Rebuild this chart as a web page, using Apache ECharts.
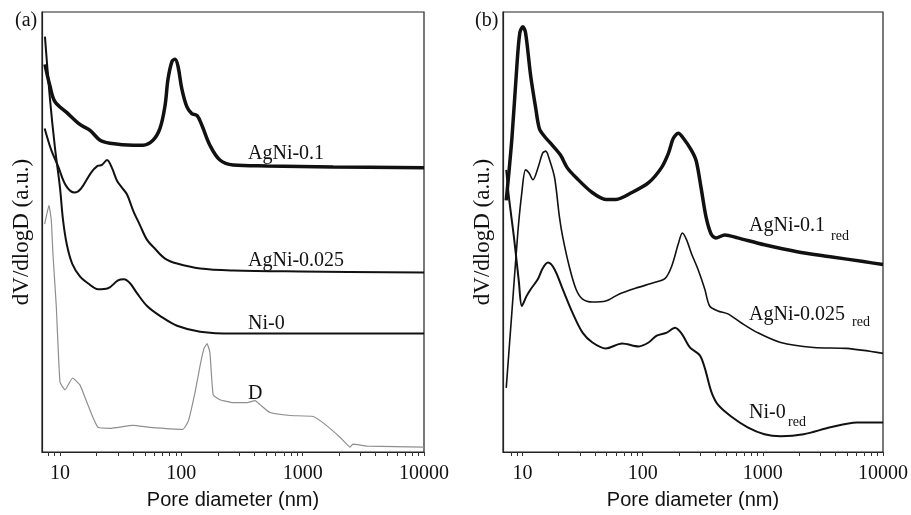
<!DOCTYPE html>
<html>
<head>
<meta charset="utf-8">
<script src="https://cdn.jsdelivr.net/npm/echarts@6/dist/echarts.min.js"></script>
<style>
html,body{margin:0;padding:0;background:#fff;}
#c{width:911px;height:515px;}
</style>
</head>
<body>
<div id="c"></div>
<script>
// ---------- tick labels ----------
const majorTicks = [10, 100, 1000, 10000];
const minorTicks = [8, 9, 10, 20, 30, 40, 50, 60, 70, 80, 90, 100, 200, 300, 400, 500, 600, 700, 800, 900,
                    1000, 2000, 3000, 4000, 5000, 6000, 7000, 8000, 9000, 10000];

// ---------- panel (a) : pore diameter (nm) / dV/dlogD (a.u.) ----------
const a_AgNi01_d = [7.52, 8.27, 9.10, 11.4, 14.6, 17.7, 21.4, 25.8, 40.0, 48.3, 58.4, 66.7, 73.4, 77.7, 83.8, 88.7, 93.9, 101, 111, 122, 135, 148, 172, 208, 267, 509, 1780, 10000];
const a_AgNi01_v = [393, 371, 355, 344, 332, 326, 316, 313, 311, 311, 316, 328, 351, 378, 396, 398, 391, 368, 350, 343, 341, 331, 311, 296, 291, 290, 289, 288];

const a_AgNi0025_d = [7.48, 8.48, 9.63, 11.2, 13.2, 14.9, 18.0, 20.4, 22.2, 24.4, 26.8, 29.5, 32.4, 35.7, 40.0, 45.6, 52.2, 60.7, 73.4, 92.2, 143, 267, 952, 10000];
const a_AgNi0025_v = [328, 306, 290, 270, 263, 267, 283, 290, 291, 296, 288, 275, 268, 261, 245, 230, 215, 206, 196, 191, 186, 184, 183, 182];

const a_Ni0_d = [7.52, 8.27, 9.10, 10.0, 10.6, 11.4, 12.6, 14.6, 17.0, 20.6, 24.9, 30.1, 33.7, 37.8, 43.1, 52.2, 66.7, 92.2, 143, 267, 10000];
const a_Ni0_v = [421, 358, 308, 268, 235, 210, 191, 178, 171, 165, 166, 174, 175, 171, 161, 148, 138, 128, 122, 120, 120];

const a_D_d = [7.48, 8.12, 8.48, 8.75, 9.32, 10.0, 11.0, 12.7, 14.6, 16.6, 18.7, 20.6, 25.8, 40.0, 55.2, 103, 114, 130, 143, 154, 163, 172, 183, 208, 267, 348, 405, 446, 538, 787, 1220, 1530, 2030, 2460, 2600, 3400, 10000];
const a_D_v = [231, 250, 235, 201, 148, 71, 63, 75, 68, 51, 35, 25, 24, 27, 25, 23, 31, 61, 88, 105, 110, 101, 58, 53, 50, 50, 52, 48, 40, 37, 36, 28, 15, 5, 8, 6, 5];

// ---------- panel (b) ----------
const b_AgNi01_d = [7.32, 8.16, 8.97, 9.50, 10.06, 10.6, 11.7, 12.9, 13.8, 15.2, 17.1, 20.7, 23.6, 28.0, 38.0, 49.5, 59.9, 81.2, 112, 143, 164, 180, 198, 218, 254, 279, 306, 337, 371, 407, 483, 618, 1030, 1930, 3640, 6860, 10000];
const b_AgNi01_v = [255, 318, 391, 425, 431, 425, 381, 348, 328, 320, 313, 301, 288, 278, 263, 256, 256, 263, 273, 288, 303, 318, 323, 318, 306, 295, 268, 238, 221, 217, 220, 217, 210, 203, 198, 193, 190];

const b_AgNi0025_d = [7.32, 8.16, 9.15, 9.87, 10.6, 11.3, 12.2, 13.6, 14.7, 15.6, 16.8, 18.5, 20.3, 21.6, 24.5, 27.9, 31.6, 38.2, 49.3, 63.4, 87.1, 127, 154, 174, 198, 214, 232, 255, 289, 329, 361, 423, 512, 659, 904, 1410, 2650, 4990, 10000];
const b_AgNi0025_v = [65, 142, 223, 263, 286, 283, 276, 290, 303, 305, 296, 278, 238, 218, 188, 165, 155, 152, 153, 160, 166, 172, 176, 188, 211, 222, 215, 201, 185, 165, 148, 143, 140, 131, 121, 111, 106, 105, 100];

const b_Ni0_d = [7.32, 7.71, 8.48, 9.32, 9.87, 10.8, 11.7, 13.4, 14.7, 16.3, 18.5, 21.6, 26.1, 31.6, 38.2, 49.3, 67.5, 92.7, 112, 131, 159, 186, 211, 247, 299, 329, 373, 423, 545, 748, 1030, 1410, 2190, 3640, 6040, 10000];
const b_Ni0_v = [286, 258, 218, 173, 148, 158, 165, 175, 186, 192, 185, 165, 141, 121, 111, 105, 110, 107, 111, 118, 121, 126, 120, 106, 98, 85, 61, 48, 36, 25, 18, 16, 18, 25, 30, 30];

const zip = (d, v) => d.map((x, i) => [x, v[i]]);

const SERIF = "'Liberation Serif', 'DejaVu Serif', serif";
const SANS = "'Liberation Sans', Arial, sans-serif";

function xAxis(gi, min) {
  return {
    type: 'log', logBase: 10, gridIndex: gi, min: min, max: 10000,
    axisLine: { show: true, onZero: false, lineStyle: { color: '#222', width: 1.2 } },
    axisTick: { show: true, inside: false, length: 4, customValues: minorTicks, lineStyle: { color: '#333', width: 1 } },
    axisLabel: { show: true, customValues: majorTicks, formatter: v => String(Math.round(v)),
                 fontFamily: SERIF, fontSize: 20, color: '#111', margin: 12 },
    minorTick: { show: false }, splitLine: { show: false },
    name: 'Pore diameter (nm)', nameLocation: 'middle', nameGap: 38,
    nameTextStyle: { fontFamily: SANS, fontSize: 20, color: '#111' }
  };
}
function yAxis(gi) {
  return {
    type: 'value', gridIndex: gi, min: 0, max: 446,
    axisLine: { show: true, lineStyle: { color: '#222', width: 1.2 } },
    axisTick: { show: false }, axisLabel: { show: false }, splitLine: { show: false },
    name: 'dV/dlogD (a.u.)', nameLocation: 'middle', nameGap: 9, nameRotate: 90,
    nameTextStyle: { fontFamily: SERIF, fontSize: 23, color: '#111' }
  };
}
function line(xi, data, width, color, smooth) {
  return {
    type: 'line', xAxisIndex: xi, yAxisIndex: xi, data: data, showSymbol: false, symbol: 'none',
    smooth: smooth, lineStyle: { color: color, width: width }, silent: true, clip: true, z: 3
  };
}
function label(x, y, s, size) {
  return { type: 'text', left: x, top: y, style: { text: s, fontFamily: SERIF, fontSize: size, fill: '#111' } };
}

const chart = echarts.init(document.getElementById('c'), null, { renderer: 'canvas' });
chart.setOption({
  backgroundColor: '#fff',
  animation: false,
  grid: [
    { left: 42, top: 12, width: 382, height: 446, show: true, borderColor: '#222', borderWidth: 1.2, backgroundColor: 'transparent' },
    { left: 503, top: 12, width: 384, height: 446, show: true, borderColor: '#222', borderWidth: 1.2, backgroundColor: 'transparent' }
  ],
  xAxis: [xAxis(0, 7.11), xAxis(1, 6.88)],
  yAxis: [yAxis(0), yAxis(1)],
  series: [
    line(0, zip(a_D_d, a_D_v), 1.2, '#8f8f8f', 0.12),
    line(0, zip(a_Ni0_d, a_Ni0_v), 2, '#111', 0.35),
    line(0, zip(a_AgNi0025_d, a_AgNi0025_v), 2, '#111', 0.35),
    line(0, zip(a_AgNi01_d, a_AgNi01_v), 3.5, '#111', 0.35),
    line(1, zip(b_Ni0_d, b_Ni0_v), 2, '#111', 0.3),
    line(1, zip(b_AgNi0025_d, b_AgNi0025_v), 1.6, '#111', 0.3),
    line(1, zip(b_AgNi01_d, b_AgNi01_v), 3.5, '#111', 0.3)
  ],
  graphic: [
    label(15, 11, '(a)', 20),
    label(475, 11, '(b)', 20),
    label(248, 144, 'AgNi-0.1', 20),
    label(248, 251, 'AgNi-0.025', 20),
    label(248, 314, 'Ni-0', 20),
    label(248, 384, 'D', 20),
    label(749, 216, 'AgNi-0.1', 20),
    label(831, 229, 'red', 14),
    label(749, 305, 'AgNi-0.025', 20),
    label(852, 315, 'red', 14),
    label(749, 403, 'Ni-0', 20),
    label(788, 415, 'red', 14)
  ]
});
</script>
</body>
</html>
